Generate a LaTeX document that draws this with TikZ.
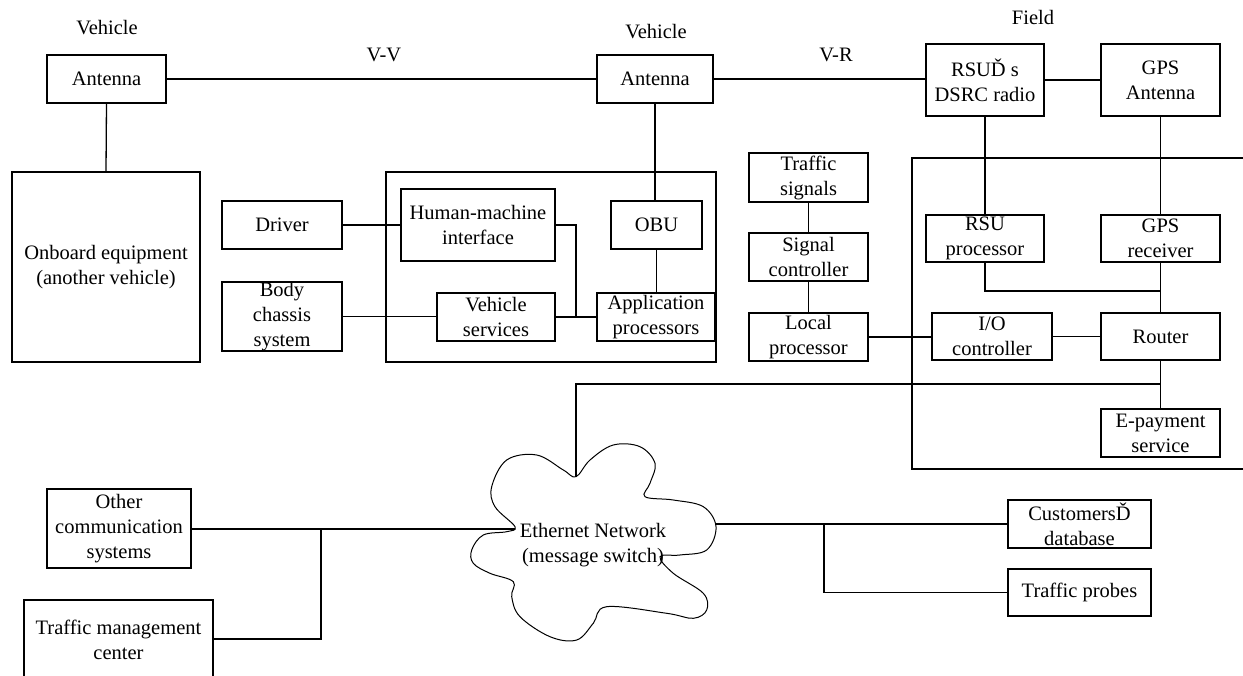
\documentclass[tikz,border=0pt]{standalone}
\usepackage{fontspec}
\setmainfont{Liberation Serif}
\begin{document}
\begin{tikzpicture}[x=1pt,y=-1pt,
  line width=1.3pt,
  every node/.style={font=\fontsize{20.5}{25}\selectfont, align=center, inner sep=0pt},
  box/.style={draw, line width=1.2pt},
  lbl/.style={}]
\useasboundingbox (0,0) rectangle (1243,676);
\clip (0,0) rectangle (1243,676);
% labels
\node[lbl] (veh1) at (107,28) {Vehicle};
\node[lbl] (vv) at (384,55) {V-V};
\node[lbl] (veh2) at (656,32) {Vehicle};
\node[lbl] (vr) at (836,55) {V-R};
\node[lbl] (field) at (1033,17) {Field};
% frames
\draw[line width=1.2pt] (386,172) rectangle (716,362);
\draw[line width=1.2pt] (912,158) rectangle (1260,469);
% boxes
\node[box, minimum width=119pt, minimum height=48pt] (ant1) at (106.5,79) {Antenna};
\node[box, minimum width=116pt, minimum height=48pt] (ant2) at (655,79) {Antenna};
\node[box, minimum width=118pt, minimum height=72pt] (rsu) at (985,80) {RSUĎ s\\DSRC radio};
\node[box, minimum width=119pt, minimum height=72pt] (gps) at (1160.5,80) {GPS\\Antenna};
\node[box, minimum width=188pt, minimum height=190pt] (onb) at (106,267) {Onboard equipment\\(another vehicle)};
\node[box, minimum width=120pt, minimum height=48pt] (drv) at (282,225) {Driver};
\node[box, minimum width=120pt, minimum height=69pt] (body) at (282,316.5) {Body\\chassis\\system};
\node[box, minimum width=154pt, minimum height=72pt] (hmi) at (478,225) {Human-machine\\interface};
\node[box, minimum width=91pt, minimum height=48pt] (obu) at (656.5,225) {OBU};
\node[box, minimum width=118pt, minimum height=48pt] (vs) at (496,317) {Vehicle\\services};
\node[box, minimum width=118pt, minimum height=48pt] (app) at (656,317) {Application\\processors};
\node[box, minimum width=119pt, minimum height=49pt] (tsig) at (808.5,177.5) {Traffic\\signals};
\node[box, minimum width=119pt, minimum height=48pt] (sctl) at (808.5,257) {Signal\\controller};
\node[box, minimum width=119pt, minimum height=48pt] (lproc) at (808.5,337) {Local\\processor};
\node[box, minimum width=118pt, minimum height=47pt] (rsup) at (985,238.5) {RSU\\processor};
\node[box, minimum width=119pt, minimum height=47pt] (gpsr) at (1160.5,238.5) {GPS\\receiver};
\node[box, minimum width=120pt, minimum height=47pt] (io) at (992,336.5) {I/O\\controller};
\node[box, minimum width=119pt, minimum height=47pt] (router) at (1160.5,336.5) {Router};
\node[box, minimum width=119pt, minimum height=48pt] (epay) at (1160.5,433) {E-payment\\service};
\node[box, minimum width=144pt, minimum height=79pt] (other) at (119,528.5) {Other\\communication\\systems};
\node[box, minimum width=189pt, minimum height=90pt] (tmc) at (118.5,645) {};
\node (tmct) at (118.5,640) {Traffic management\\center};
\node[box, minimum width=143pt, minimum height=48pt] (cdb) at (1079.5,524) {CustomersĎ\\database};
\node[box, minimum width=143pt, minimum height=47pt] (probes) at (1079.5,592.5) {Traffic probes};
% cloud
\draw[line width=1pt] plot[smooth cycle, tension=0.6] coordinates {
 (576,476.7) (590,460) (613.3,445) (640,446.7) (655,463.3) (650,483.3) (645,496.7)
 (673.3,500) (703.3,506.7) (716,526.7) (706.7,550) (680,555) (660,556.7)
 (673.3,573.3) (703.3,593.3) (706.7,610) (693.3,618.3) (666.7,613.3) (606.7,606.7)
 (593.3,623.3) (576.7,640) (550,636.7) (520,616.7) (511.7,596.7) (513.3,581.7)
 (490,573.3) (473.3,563.3) (471.7,550) (483.3,535) (506.7,531.7) (515,526.7)
 (495,506.7) (491.7,486.7) (506.7,460) (536.7,455) (563.3,470)};
\node (eth) at (593,545) {Ethernet Network\\(message switch)};
\coordinate (ctop) at (576,477);
\coordinate (cleft) at (515,529);
\coordinate (cright) at (716,524);
\coordinate (j1) at (1160.5,291);
\coordinate (j2) at (1160.5,384);
\coordinate (j3) at (576,317);
\coordinate (j4) at (321,529);
\coordinate (j5) at (824,524);
% connectors
\draw (ant1.east) -- (ant2.west);
\draw (ant2.east) -- (ant2.east -| rsu.west);
\draw (rsu.east) -- (gps.west);
\draw (ant1.south) -- (onb.north);
\draw (ant2.south) -- (ant2.south |- obu.north);
\draw (obu.south) -- (obu.south |- app.north);
\draw (drv.east) -- (hmi.west);
\draw (body.east) -- (body.east -| vs.west);
\draw (vs.east) -- (app.west);
\draw (hmi.east) -| (j3);
\draw (tsig.south) -- (sctl.north);
\draw (sctl.south) -- (lproc.north);
\draw (lproc.east) -- (lproc.east -| io.west);
\draw (io.east) -- (router.west);
\draw (rsu.south) -- (rsup.north);
\draw (gps.south) -- (gpsr.north);
\draw (rsup.south) |- (j1);
\draw (gpsr.south) -- (router.north);
\draw (router.south) -- (epay.north);
\draw (j2) -| (ctop);
\draw (other.east |- cleft) -- (cleft);
\draw (tmc.east |- 0,639) -| (j4);
\draw (cright) -- (cdb.west);
\draw (j5) |- (probes.west);
\end{tikzpicture}
\end{document}
